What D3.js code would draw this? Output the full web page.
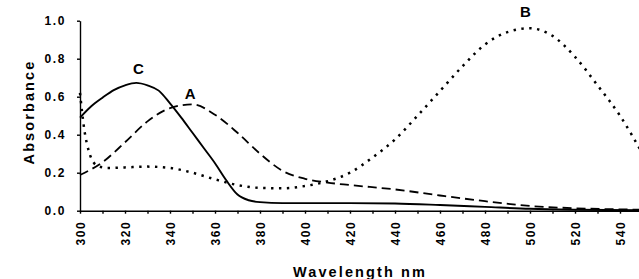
<!DOCTYPE html>
<html lang="en">
	<head>
		<meta charset="UTF-8" />
		<title>Absorbance spectra</title>
		<style>
			body { margin: 0; background: #fff; }
			svg { display: block; font-family: "Liberation Sans", Arial, sans-serif; font-weight: bold; }
		</style>
	</head>
	<body>
		<div id="chart"></div>
		<script src="https://d3js.org/d3.v7.min.js"></script>
		<script>
			const width = 639;
			const height = 279;

			// wavelength (nm) / absorbance
			const wavelengthA = [300, 310, 320, 330, 340, 350, 360, 370, 380, 390, 400, 410, 420, 440, 460, 480, 500, 520, 540, 550];
			const absorbanceA = [0.188, 0.255, 0.36, 0.47, 0.54, 0.56, 0.505, 0.41, 0.3, 0.21, 0.168, 0.148, 0.135, 0.112, 0.08, 0.05, 0.025, 0.013, 0.007, 0.005];

			const wavelengthB = [300, 302, 304, 306, 308, 312, 320, 330, 340, 350, 360, 370, 380, 390, 400, 410, 420, 430, 440, 450, 460, 470, 480, 490, 500, 510, 520, 530, 540, 550];
			const absorbanceB = [0.62, 0.42, 0.31, 0.255, 0.235, 0.225, 0.228, 0.232, 0.225, 0.2, 0.165, 0.135, 0.12, 0.118, 0.13, 0.155, 0.2, 0.28, 0.375, 0.5, 0.63, 0.76, 0.875, 0.94, 0.96, 0.92, 0.81, 0.66, 0.5, 0.3];

			const wavelengthC = [300, 305, 310, 315, 320, 325, 330, 335, 340, 345, 350, 355, 360, 365, 370, 375, 380, 390, 400, 420, 440, 460, 480, 500, 520, 550];
			const absorbanceC = [0.49, 0.55, 0.595, 0.635, 0.66, 0.673, 0.66, 0.632, 0.565, 0.49, 0.41, 0.33, 0.25, 0.16, 0.085, 0.055, 0.045, 0.04, 0.04, 0.04, 0.038, 0.03, 0.02, 0.01, 0.005, 0.002];

			const yTicks = [0, 0.2, 0.4, 0.6, 0.8, 1.0];
			const xTicks = [300, 310, 320, 330, 340, 350, 360, 370, 380, 390, 400, 410, 420, 430, 440, 450, 460, 470, 480, 490, 500, 510, 520, 530, 540, 550];

			const svg = d3
				.select("#chart")
				.append("svg")
				.attr("width", width)
				.attr("height", height);

			const x = d3.scaleLinear().domain([300, 550]).range([80, 642.5]);
			const y = d3.scaleLinear().domain([0, 1]).range([210.7, 20.7]);

			// axes
			svg.append("g")
				.attr("transform", `translate(${x(300)},0)`)
				.call(
					d3.axisLeft(y)
						.tickValues(yTicks)
						.tickSize(3)
						.tickSizeOuter(0)
						.tickPadding(11)
						.tickFormat(d3.format(".1f"))
				);

			const xAxis = svg
				.append("g")
				.attr("transform", `translate(0,${y(0)})`)
				.call(
					d3.axisBottom(x)
						.tickValues(xTicks)
						.tickSize(3)
						.tickSizeOuter(0)
						.tickFormat((d) => (d % 20 === 0 && d < 550 ? d : ""))
				);

			xAxis
				.selectAll("text")
				.attr("transform", "rotate(-90)")
				.attr("x", -10)
				.attr("y", 0)
				.attr("dy", "0.36em")
				.attr("text-anchor", "end");

			svg.selectAll(".domain, .tick line")
				.attr("stroke", "#000")
				.attr("stroke-width", 1.4);
			svg.selectAll(".tick text")
				.attr("fill", "#000")
				.style("font-size", "12px")
				.style("font-weight", "bold")
				.style("font-family", "'Liberation Sans', Arial, sans-serif")
				.style("letter-spacing", "1.6px");

			svg.append("text")
				.attr("transform", "translate(34,112) rotate(-90)")
				.attr("text-anchor", "middle")
				.style("font-size", "14.5px")
				.style("letter-spacing", "2.1px")
				.text("Absorbance");

			svg.append("text")
				.attr("x", 360)
				.attr("y", 277)
				.attr("text-anchor", "middle")
				.style("font-size", "14.5px")
				.style("letter-spacing", "2.1px")
				.text("Wavelength nm");

			// curves
			const line = d3
				.line()
				.x((d) => x(d[0]))
				.y((d) => y(d[1]))
				.curve(d3.curveMonotoneX);

			const series = [
				{ name: "A", data: d3.zip(wavelengthA, absorbanceA), dash: "9,5", width: 1.8 },
				{ name: "B", data: d3.zip(wavelengthB, absorbanceB), dash: "2.4,5.5", width: 2.5 },
				{ name: "C", data: d3.zip(wavelengthC, absorbanceC), dash: null, width: 1.9 },
			];

			svg.append("g")
				.selectAll("path")
				.data(series)
				.enter()
				.append("path")
				.attr("d", (d) => line(d.data))
				.attr("fill", "none")
				.attr("stroke", "#000")
				.attr("stroke-width", (d) => d.width)
				.attr("stroke-dasharray", (d) => d.dash);

			// curve labels
			const labelNames = ["A", "B", "C"];
			const labelWavelength = [349, 498, 326];
			const labelAbsorbance = [0.59, 1.02, 0.72];

			svg.append("g")
				.selectAll("text")
				.data(labelNames)
				.enter()
				.append("text")
				.attr("x", (d, i) => x(labelWavelength[i]))
				.attr("y", (d, i) => y(labelAbsorbance[i]))
				.attr("text-anchor", "middle")
				.style("font-size", "15px")
				.text((d) => d);
		</script>
	</body>
</html>
